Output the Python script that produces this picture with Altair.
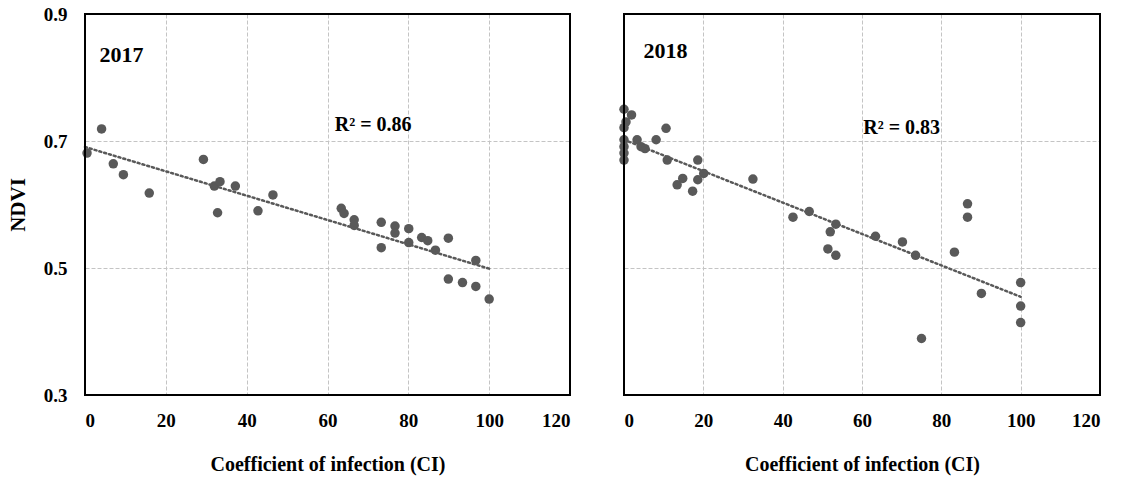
import altair as alt
import pandas as pd

# NDVI against coefficient of infection, two seasons
ci_2017 = [0.5, 4.1, 7.0, 9.5, 15.9, 29.3, 32.0, 32.8, 33.4, 37.2, 42.8, 46.5,
           63.4, 64.1, 66.6, 66.6, 73.3, 73.3, 76.7, 76.7, 80.1, 80.1, 83.3, 84.8,
           86.7, 89.9, 89.9, 93.4, 96.7, 96.7, 100]
ndvi_2017 = [0.681, 0.719, 0.664, 0.647, 0.618, 0.671, 0.629, 0.587, 0.636, 0.629,
             0.590, 0.615, 0.594, 0.586, 0.576, 0.567, 0.572, 0.532, 0.566, 0.555,
             0.562, 0.540, 0.548, 0.543, 0.528, 0.547, 0.4825, 0.477, 0.512, 0.471,
             0.451]

ci_2018 = [0, 1.9, 0.5, 0, 0, 0, 0, 0, 3.3, 4.3, 5.3, 8.1, 10.6, 10.9, 18.6, 20.1,
           18.6, 14.8, 13.4, 17.3, 32.5, 42.6, 46.7, 53.4, 52.0, 51.4, 53.4, 63.4,
           70.2, 73.5, 83.3, 86.6, 86.6, 75.0, 90.1, 100, 100, 100]
ndvi_2018 = [0.750, 0.741, 0.730, 0.721, 0.702, 0.691, 0.681, 0.670, 0.702, 0.691,
             0.688, 0.702, 0.720, 0.670, 0.670, 0.649, 0.639, 0.641, 0.631, 0.621,
             0.640, 0.580, 0.589, 0.569, 0.557, 0.530, 0.520, 0.550, 0.541, 0.520,
             0.525, 0.601, 0.580, 0.389, 0.460, 0.477, 0.440, 0.414]

x_ticks = [0, 20, 40, 60, 80, 100, 120]
y_ticks = [0.3, 0.5, 0.7, 0.9]

FONT = "Liberation Serif"
INK = "#595959"


def panel(ci, ndvi, year, r2, year_xy, r2_xy, show_y, width, height):
    df = pd.DataFrame({"ci": ci, "ndvi": ndvi})
    notes = pd.DataFrame({
        "ci": [year_xy[0], r2_xy[0]],
        "ndvi": [year_xy[1], r2_xy[1]],
        "label": [year, r2],
        "size": [22, 20],
    })

    x = alt.X("ci:Q", scale=alt.Scale(domain=[0, 120], nice=False),
              axis=alt.Axis(values=x_ticks, title="Coefficient of infection (CI)"))
    if show_y:
        y_axis = alt.Axis(values=y_ticks, format=".1f", title="NDVI", titleFontSize=21)
    else:
        y_axis = alt.Axis(values=y_ticks, labels=False, title=None)
    y = alt.Y("ndvi:Q", scale=alt.Scale(domain=[0.3, 0.9], nice=False, zero=False),
              axis=y_axis)

    points = alt.Chart(df).mark_circle(size=90, color=INK, opacity=1).encode(x=x, y=y)

    trend = (
        alt.Chart(df)
        .transform_regression("ci", "ndvi", extent=[0, 100])
        .mark_line(color=INK, strokeDash=[2, 3], strokeWidth=2.5, strokeCap="round")
        .encode(x="ci:Q", y="ndvi:Q")
    )

    labels = alt.Chart(notes).mark_text(
        align="left", baseline="middle", font=FONT, fontWeight="bold", color="black"
    ).encode(
        x="ci:Q", y="ndvi:Q", text="label:N",
        size=alt.Size("size:Q", scale=None, legend=None),
    )

    # plot frame drawn above the grid so the edge gridlines do not break it
    frame = alt.Chart(notes).mark_rect(
        fill=None, stroke="black", strokeWidth=2
    ).encode(
        x=alt.value(0), x2=alt.value(width), y=alt.value(0), y2=alt.value(height)
    )

    return alt.layer(points, trend, labels, frame).properties(width=width, height=height)


left = panel(ci_2017, ndvi_2017, "2017", "R² = 0.86", (3.6, 0.835), (61.8, 0.725),
             True, 485, 381)
right = panel(ci_2018, ndvi_2018, "2018", "R² = 0.83", (4.9, 0.842), (60.3, 0.720),
              False, 476, 381)

chart = (
    alt.hconcat(left, right, spacing=48)
    .properties(padding={"left": 7, "top": 5, "right": 5, "bottom": 5})
    .configure_view(stroke=None)
    .configure_axis(
        labelFont=FONT, labelFontSize=19, labelFontWeight="bold", labelColor="black",
        titleFont=FONT, titleFontSize=20, titleFontWeight="bold", titleColor="black",
        ticks=False, domain=False,
        gridColor="#c4c4c4", gridDash=[4, 2], gridWidth=1,
    )
    .configure_axisX(labelPadding=16, titlePadding=24)
    .configure_axisY(labelPadding=18, titlePadding=15)
)

chart.save("out.html", embed_options={"renderer": "svg", "actions": False})
